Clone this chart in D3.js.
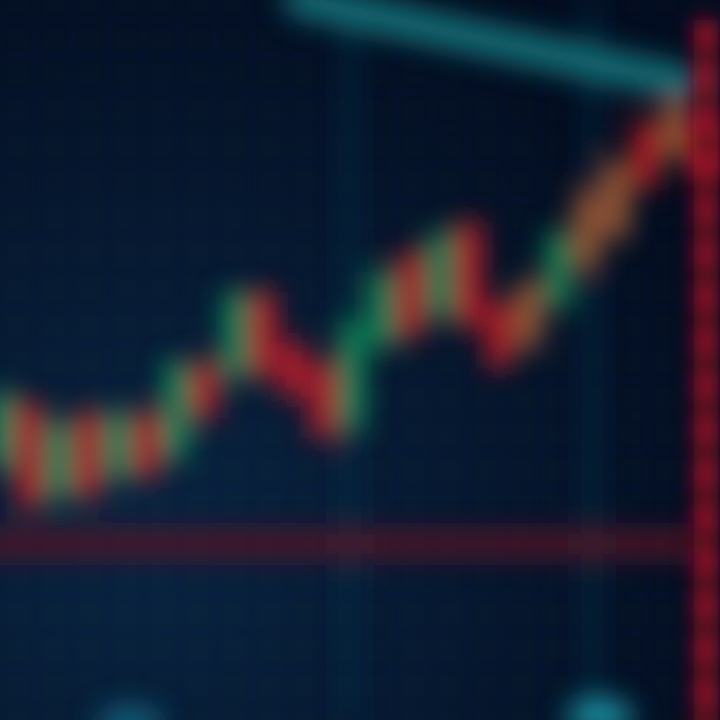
<!DOCTYPE html>
<html><head><meta charset="utf-8">
<script src="https://cdn.jsdelivr.net/npm/d3@7/dist/d3.min.js"></script>
<style>html,body{margin:0;padding:0;background:#061528;overflow:hidden}</style>
</head><body>
<svg id="c" width="720" height="720"></svg>
<script>
// Candle data (price units)
const candleIndex = d3.range(25);
const openVals  = [165,177.5,157.5,175,162.5,175,167.5,187.5,187.5,205,192.5,187.5,175,195,215,202.5,222.5,202.5,195,205,215,222.5,247.5,242.5,247.5];
const closeVals = [180,155,172.5,157.5,175,162.5,187.5,177.5,205,187.5,182.5,172.5,197.5,210,197.5,220,200,190,207.5,220,230,237.5,235,252.5,237.5];
const tone      = ["up","down","up","down","up","down","up","down","up","down","down","down","up","up","down","up","down","down","mix","up","mix","mix","down","mix","down"];
const supportLevel = 144;      // horizontal red level
const trendStart = [300, 280]; // [x, price] teal trend line
const trendEnd   = [690, 259];

const W = 720, H = 720;
const svg = d3.select("#c");
const x = d3.scaleBand().domain(candleIndex).range([-10, 715]).paddingInner(0.3);
const y = d3.scaleLinear().domain([100, 280]).range([H, 0]);
const xl = d3.scaleLinear().domain([0, 720]).range([0, 720]);
const col = {up:"#12a060", down:"#e01c28", mix:"#c06c3a"};

const defs = svg.append("defs");
const bg = defs.append("radialGradient").attr("id","bg").attr("cx","20%").attr("cy","75%").attr("r","85%");
bg.append("stop").attr("offset","0%").attr("stop-color","#0a2642");
bg.append("stop").attr("offset","100%").attr("stop-color","#040e20");
defs.append("filter").attr("id","blur").attr("filterUnits","userSpaceOnUse")
  .attr("x",-100).attr("y",-100).attr("width",920).attr("height",920)
  .append("feGaussianBlur").attr("stdDeviation", 14);
defs.append("filter").attr("id","blur3").attr("filterUnits","userSpaceOnUse")
  .attr("x",-100).attr("y",-100).attr("width",920).attr("height",920)
  .append("feGaussianBlur").attr("stdDeviation", 10);
defs.append("filter").attr("id","blur2").attr("filterUnits","userSpaceOnUse")
  .attr("x",-100).attr("y",-100).attr("width",920).attr("height",920)
  .append("feGaussianBlur").attr("stdDeviation", 3);

svg.append("rect").attr("width",W).attr("height",H).attr("fill","url(#bg)");

// Grid
const grid = svg.append("g").attr("filter","url(#blur2)");
const gx = d3.range(0, 721, 36), gy = d3.range(20, 721, 36);
grid.selectAll("line.v").data(gx).join("line").attr("x1",d=>xl(d)).attr("x2",d=>xl(d)).attr("y1",0).attr("y2",H)
  .attr("stroke","#16385a").attr("stroke-width",2).attr("opacity",0.2);
grid.selectAll("line.h").data(gy).join("line").attr("y1",d=>d).attr("y2",d=>d).attr("x1",0).attr("x2",W)
  .attr("stroke","#16385a").attr("stroke-width",2).attr("opacity",0.2);
const g = svg.append("g").attr("filter","url(#blur)");
g.selectAll("line.major").data([350, 592]).join("line").attr("x1",d=>xl(d)).attr("x2",d=>xl(d)).attr("y1",0).attr("y2",H)
  .attr("stroke","#0c3450").attr("stroke-width",10).attr("opacity",0.8);

// Teal trend line
g.append("line").attr("x1",xl(trendStart[0])).attr("y1",y(trendStart[1])).attr("x2",xl(trendEnd[0])).attr("y2",y(trendEnd[1]))
  .attr("stroke","#15727a").attr("stroke-width",32).attr("stroke-linecap","round");

// Horizontal red level
g.append("line").attr("x1",-20).attr("x2",700).attr("y1",y(supportLevel)).attr("y2",y(supportLevel))
  .attr("stroke","#561428").attr("stroke-width",24);

// Candles
const data = candleIndex.map(i => ({i, o: openVals[i], c: closeVals[i], t: tone[i]}));
g.selectAll("rect.candle").data(data).join("rect").attr("class","candle")
  .attr("x", d => x(d.i)).attr("width", x.bandwidth())
  .attr("y", d => y(Math.max(d.o, d.c)) - 8).attr("height", d => Math.abs(y(d.o) - y(d.c)) + 16)
  .attr("fill", d => col[d.t]);

// Teal bottom blobs
g.selectAll("ellipse").data([[130,722,"#12607a"],[600,716,"#1a98a8"]]).join("ellipse")
  .attr("cx",d=>xl(d[0])).attr("cy",d=>d[1]).attr("rx",34).attr("ry",16).attr("fill",d=>d[2]);

// Vertical red dashed line
const vr = svg.append("g").attr("filter","url(#blur3)");
vr.append("line").attr("x1",706).attr("x2",706).attr("y1",20).attr("y2",H+20)
  .attr("stroke","#4a0818").attr("stroke-width",24);
vr.append("line").attr("x1",706).attr("x2",706).attr("y1",20).attr("y2",H+20)
  .attr("stroke","#a00a2a").attr("stroke-width",22).attr("stroke-dasharray","28,16");
</script>
</body></html>
